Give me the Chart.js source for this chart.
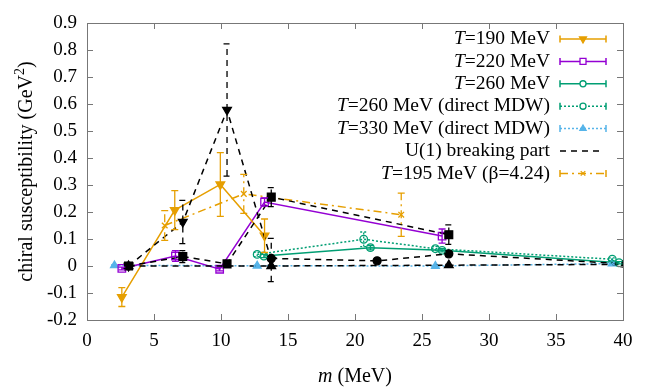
<!DOCTYPE html>
<html>
<head>
<meta charset="utf-8">
<script src="https://cdn.jsdelivr.net/npm/chart.js@4.4.0/dist/chart.umd.min.js"></script>
<style>
html, body { margin:0; padding:0; background:#fff; }
#wrap { width:654px; height:392px; }
</style>
</head>
<body>
<div id="wrap"><canvas id="c" width="654" height="392"></canvas></div>
<script>
// values: m in MeV, chi in GeV^2, err = half height of error bar
var m190 = [2.6, 6.55, 9.95, 13.25];
var chi190 = [-0.115, 0.207, 0.302, 0.112];
var err190 = [0.035, 0.072, 0.118, 0.062];

var m220 = [2.6, 6.6, 9.9, 13.25, 26.5];
var chi220 = [-0.009, 0.037, -0.012, 0.237, 0.111];
var err220 = [0.005, 0.02, 0.006, 0.015, 0.026];

var m260 = [13.2, 21.15, 26.5, 39.7];
var chi260 = [0.037, 0.068, 0.058, 0.012];
var err260 = [0.006, 0.008, 0.006, 0.004];

var m260d = [12.7, 20.65, 26.0, 39.2];
var chi260d = [0.043, 0.099, 0.064, 0.025];
var err260d = [0.008, 0.027, 0.008, 0.005];

var m330d = [2.05, 12.7, 26.0, 39.2];
var chi330d = [0.002, 0.001, 0.0, 0.009];
var err330d = [0.002, 0.002, 0.002, 0.003];

// U(1) breaking part, one curve per temperature
var mU190 = [3.1, 7.15, 10.45, 13.75];
var chiU190 = [0.0, 0.163, 0.578, 0.022];
var errU190 = [0.01, 0.08, 0.245, 0.08];

var mU220 = [3.1, 7.15, 10.45, 13.75, 27.0];
var chiU220 = [0.0, 0.035, 0.008, 0.255, 0.116];
var errU220 = [0.006, 0.022, 0.008, 0.035, 0.036];

var mU260 = [13.75, 21.65, 27.0, 40.2];
var chiU260 = [0.028, 0.019, 0.045, 0.008];
var errU260 = [0.008, 0.006, 0.01, 0.004];

var mU330 = [3.1, 13.75, 27.0, 40.2];
var chiU330 = [0.0, 0.0, 0.003, 0.006];
var errU330 = [0.003, 0.003, 0.003, 0.003];

var m195 = [5.8, 11.7, 23.45];
var chi195 = [0.15, 0.267, 0.19];
var err195 = [0.055, 0.072, 0.08];

var xTicks = [0, 5, 10, 15, 20, 25, 30, 35, 40];
var yTicks = [-0.2, -0.1, 0, 0.1, 0.2, 0.3, 0.4, 0.5, 0.6, 0.7, 0.8, 0.9];

var legendLabels = [
	['T', '=190 MeV'],
	['T', '=220 MeV'],
	['T', '=260 MeV'],
	['T', '=260 MeV (direct MDW)'],
	['T', '=330 MeV (direct MDW)'],
	['', 'U(1) breaking part'],
	['T', '=195 MeV (\u03b2=4.24)']
];

var orange = '#E69F00', purple = '#9400D3', green = '#009E73', sky = '#56B4E9';
var SERIF = '"Liberation Serif", "DejaVu Serif", serif';

function pts(xs, ys){
	var out = [];
	for (var i = 0; i < xs.length; i++){ out.push({x: xs[i], y: ys[i]}); }
	return out;
}

function series(xs, ys, errs, color, dash, style, radius, rot, fill){
	return {
		data: pts(xs, ys),
		errs: errs,
		showLine: true,
		borderColor: color,
		borderWidth: 1.5,
		borderDash: dash,
		pointStyle: style,
		pointRadius: radius,
		pointRotation: rot,
		pointBackgroundColor: fill,
		pointBorderColor: color,
		pointBorderWidth: 1.3,
		tension: 0
	};
}

var dashU = [6, 5];

var datasets = [
	series(mU190, chiU190, errU190, '#000', dashU, 'triangle', 5, 180, '#000'),
	series(mU220, chiU220, errU220, '#000', dashU, 'rect', 5.5, 0, '#000'),
	series(mU260, chiU260, errU260, '#000', dashU, 'circle', 4, 0, '#000'),
	series(mU330, chiU330, errU330, '#000', dashU, 'triangle', 5, 0, '#000'),
	series(m190, chi190, err190, orange, [], 'triangle', 5, 180, orange),
	series(m220, chi220, err220, purple, [], 'rect', 5.3, 0, 'rgba(255,255,255,0)'),
	series(m260, chi260, err260, green, [], 'circle', 3.8, 0, 'rgba(255,255,255,0)'),
	series(m260d, chi260d, err260d, green, [2, 2], 'circle', 3.8, 0, 'rgba(255,255,255,0)'),
	series(m330d, chi330d, err330d, sky, [2, 2], 'triangle', 4.5, 0, sky),
	series(m195, chi195, err195, orange, [8, 4, 2, 4], 'crossRot', 4, 0, orange)
];

// legend entries point at datasets by index
var legendIdx = [4, 5, 6, 7, 8, 0, 9];

var errorBars = {
	id: 'errorBars',
	afterDatasetsDraw: function(chart){
		var ctx = chart.ctx, a = chart.chartArea, xs = chart.scales.x, ys = chart.scales.y;
		ctx.save();
		ctx.beginPath();
		ctx.rect(a.left, a.top, a.right - a.left, a.bottom - a.top);
		ctx.clip();
		chart.data.datasets.forEach(function(ds){
			ctx.strokeStyle = ds.borderColor;
			ctx.lineWidth = 1.3;
			ctx.setLineDash(ds.borderDash || []);
			ds.data.forEach(function(p, i){
				var e = ds.errs[i];
				var x = xs.getPixelForValue(p.x);
				var y1 = ys.getPixelForValue(p.y - e), y2 = ys.getPixelForValue(p.y + e);
				ctx.beginPath();
				ctx.moveTo(x, y1); ctx.lineTo(x, y2);
				ctx.moveTo(x - 3.5, y1); ctx.lineTo(x + 3.5, y1);
				ctx.moveTo(x - 3.5, y2); ctx.lineTo(x + 3.5, y2);
				ctx.stroke();
			});
		});
		ctx.restore();
	}
};

var frame = {
	id: 'frame',
	afterDraw: function(chart){
		var ctx = chart.ctx, a = chart.chartArea, xs = chart.scales.x, ys = chart.scales.y;
		ctx.save();
		ctx.strokeStyle = '#777';
		ctx.lineWidth = 1;
		ctx.setLineDash([]);
		ctx.strokeRect(Math.round(a.left) + 0.5, Math.round(a.top) + 0.5, Math.round(a.right - a.left), Math.round(a.bottom - a.top));
		ctx.beginPath();
		xTicks.forEach(function(v){
			var x = Math.round(xs.getPixelForValue(v)) + 0.5;
			ctx.moveTo(x, a.bottom); ctx.lineTo(x, a.bottom - 6);
			ctx.moveTo(x, a.top); ctx.lineTo(x, a.top + 6);
		});
		yTicks.forEach(function(v){
			var y = Math.round(ys.getPixelForValue(v)) + 0.5;
			ctx.moveTo(a.left, y); ctx.lineTo(a.left + 6, y);
			ctx.moveTo(a.right, y); ctx.lineTo(a.right - 6, y);
		});
		ctx.stroke();

		// axis titles
		ctx.fillStyle = '#000';
		ctx.textBaseline = 'middle';
		var cx = (a.left + a.right) / 2;
		ctx.font = 'italic 20px ' + SERIF;
		var w1 = ctx.measureText('m').width;
		ctx.font = '20px ' + SERIF;
		var w2 = ctx.measureText(' (MeV)').width;
		var sx = cx - (w1 + w2) / 2;
		ctx.textAlign = 'left';
		ctx.font = 'italic 20px ' + SERIF;
		ctx.fillText('m', sx, 377);
		ctx.font = '20px ' + SERIF;
		ctx.fillText(' (MeV)', sx + w1, 377);

		// y title with a raised 2
		ctx.save();
		ctx.translate(27, (a.top + a.bottom) / 2);
		ctx.rotate(-Math.PI / 2);
		ctx.textAlign = 'left';
		ctx.font = '20px ' + SERIF;
		var t1 = 'chiral susceptibility (GeV', t3 = ')';
		var wt1 = ctx.measureText(t1).width, wt3 = ctx.measureText(t3).width;
		ctx.font = '14px ' + SERIF;
		var wt2 = ctx.measureText('2').width;
		var tx = -(wt1 + wt2 + wt3) / 2;
		ctx.font = '20px ' + SERIF;
		ctx.fillText(t1, tx, 0);
		ctx.font = '14px ' + SERIF;
		ctx.fillText('2', tx + wt1, -7);
		ctx.font = '20px ' + SERIF;
		ctx.fillText(t3, tx + wt1 + wt2, 0);
		ctx.restore();

		// legend, text right aligned with the sample on its right
		legendLabels.forEach(function(lab, i){
			var y = 39 + i * 22.4;
			var ds = chart.data.datasets[legendIdx[i]];
			ctx.font = '19.5px ' + SERIF;
			var wb = ctx.measureText(lab[1]).width;
			ctx.font = 'italic 19.5px ' + SERIF;
			var wa = ctx.measureText(lab[0]).width;
			ctx.textAlign = 'left';
			ctx.fillStyle = '#000';
			ctx.fillText(lab[0], 550 - wa - wb, y);
			ctx.font = '19.5px ' + SERIF;
			ctx.fillText(lab[1], 550 - wb, y);

			var x0 = 560, x1 = 606;
			ctx.strokeStyle = ds.borderColor;
			ctx.lineWidth = 1.5;
			ctx.setLineDash(ds.borderDash);
			ctx.beginPath();
			if (legendIdx[i] === 0){
				ctx.moveTo(x0, y); ctx.lineTo(x1 - 4, y);
				ctx.stroke();
				return;
			}
			ctx.moveTo(x0, y); ctx.lineTo(x1, y);
			ctx.stroke();
			ctx.setLineDash([]);
			ctx.beginPath();
			ctx.moveTo(x0, y - 3.5); ctx.lineTo(x0, y + 3.5);
			ctx.moveTo(x1, y - 3.5); ctx.lineTo(x1, y + 3.5);
			ctx.stroke();
			ctx.fillStyle = ds.pointBackgroundColor === 'rgba(255,255,255,0)' ? '#fff' : ds.pointBackgroundColor;
			ctx.lineWidth = 1.3;
			Chart.helpers.drawPoint(ctx, {
				pointStyle: ds.pointStyle,
				radius: ds.pointRadius * 0.8,
				rotation: ds.pointRotation,
				borderWidth: 1.3
			}, 583, y);
		});
		ctx.restore();
	}
};

var tickFont = { family: SERIF, size: 19 };

new Chart(document.getElementById('c'), {
	type: 'scatter',
	data: { datasets: datasets },
	options: {
		responsive: false,
		animation: false,
		devicePixelRatio: 1,
		layout: { padding: { left: 0, right: 31, top: 23, bottom: 0 } },
		plugins: { legend: { display: false }, tooltip: { enabled: false } },
		scales: {
			x: {
				type: 'linear', min: 0, max: 40,
				afterBuildTicks: function(s){ s.ticks = xTicks.map(function(v){ return {value: v}; }); },
				ticks: { padding: 10, color: '#000', font: tickFont, maxRotation: 0, autoSkip: false },
				grid: { display: false, drawTicks: false },
				border: { display: false },
				afterFit: function(s){ s.height = 72; }
			},
			y: {
				type: 'linear', min: -0.2, max: 0.9,
				afterBuildTicks: function(s){ s.ticks = yTicks.map(function(v){ return {value: v}; }); },
				ticks: {
					padding: 10, color: '#000', font: tickFont, autoSkip: false,
					callback: function(v){ var t = (+v).toFixed(1); return t === '0.0' || t === '-0.0' ? '0' : t; }
				},
				grid: { display: false, drawTicks: false },
				border: { display: false },
				afterFit: function(s){ s.width = 87; }
			}
		}
	},
	plugins: [errorBars, frame]
});
</script>
</body>
</html>
